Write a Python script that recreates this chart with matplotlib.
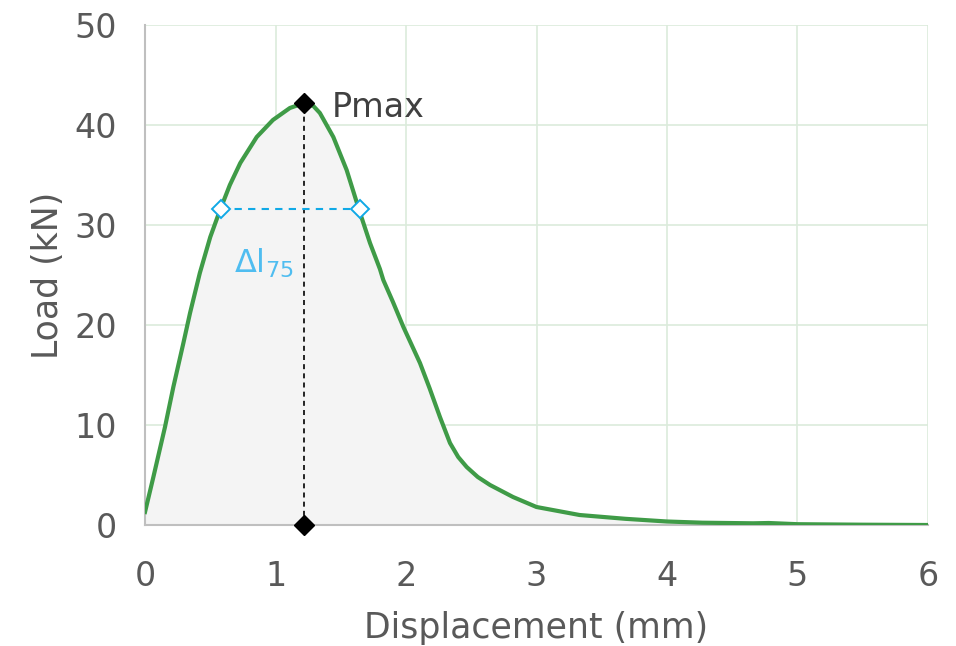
import numpy as np
import matplotlib.pyplot as plt

# load-displacement curve
disp = [0.0, 0.064, 0.153, 0.217, 0.294, 0.345, 0.42, 0.50, 0.575, 0.65, 0.73, 0.856,
        0.98, 1.11, 1.22, 1.29, 1.34, 1.443, 1.545, 1.648, 1.724, 1.80, 1.826, 1.90,
        1.98, 2.04, 2.107, 2.18, 2.26, 2.337, 2.40, 2.465, 2.55, 2.644, 2.82, 3.0,
        3.33, 3.68, 4.0, 4.27, 4.66, 4.78, 5.0, 5.5, 6.0]
load = [1.3, 4.8, 9.8, 13.8, 18.2, 21.2, 25.2, 28.8, 31.5, 34.0, 36.2, 38.8,
        40.5, 41.7, 42.2, 41.9, 41.2, 38.8, 35.5, 31.2, 28.2, 25.6, 24.5, 22.3,
        19.8, 18.1, 16.2, 13.7, 10.8, 8.2, 6.8, 5.8, 4.8, 4.0, 2.8, 1.8,
        1.0, 0.62, 0.35, 0.23, 0.17, 0.2, 0.08, 0.03, 0.0]

x_pmax = 1.22
pmax = 42.2
x75 = [0.58, 1.645]
p75 = 0.75 * pmax

xticks = [0, 1, 2, 3, 4, 5, 6]
yticks = [0, 10, 20, 30, 40, 50]

txt = '#595959'
green = '#3f9b47'
blue = '#10a9e6'

fig = plt.figure(figsize=(9.56, 6.46), dpi=100)
ax = fig.add_axes([0.1517, 0.1873, 0.819, 0.774])

ax.fill_between(disp, load, 0, color='#f4f4f4', zorder=1)
ax.plot(disp, load, color=green, lw=3, zorder=3, solid_joinstyle='round')

# Pmax markers
ax.plot([x_pmax, x_pmax], [0, pmax], color='black', ls=(0, (3, 2.5)), lw=1.2, zorder=4)
ax.plot([x_pmax, x_pmax], [0, pmax], 'D', color='black', ms=10, zorder=5, clip_on=False)
ax.text(x_pmax + 0.21, pmax - 0.4, 'Pmax', fontsize=24, color='#404040', va='center')

# delta l 75
ax.plot(x75, [p75, p75], color=blue, ls=(0, (3.5, 3)), lw=1.5, zorder=4)
ax.plot(x75, [p75, p75], 'D', mfc='white', mec=blue, mew=1.4, ms=9, zorder=5)
ax.text(0.68, 26.2, r'$\Delta$l$_{75}$', fontsize=23, color='#4fbdf0', va='center')

ax.set_xlim(0, 6)
ax.set_ylim(0, 50)
ax.set_xticks(xticks)
ax.set_yticks(yticks)
ax.grid(True, color='#dcebdc', lw=1.2, zorder=0)
ax.set_axisbelow(True)
for s in ['top', 'right']:
    ax.spines[s].set_visible(False)
for s in ['left', 'bottom']:
    ax.spines[s].set_color('#bfbfbf')
    ax.spines[s].set_linewidth(1.5)
ax.tick_params(length=0, labelsize=24, labelcolor=txt)
ax.tick_params(axis='x', pad=25)
ax.tick_params(axis='y', pad=20)

ax.set_xlabel('Displacement (mm)', fontsize=25, color=txt, labelpad=13)
ax.set_ylabel('Load (kN)', fontsize=25, color=txt, labelpad=7)

fig.savefig('out.png', dpi=100)
